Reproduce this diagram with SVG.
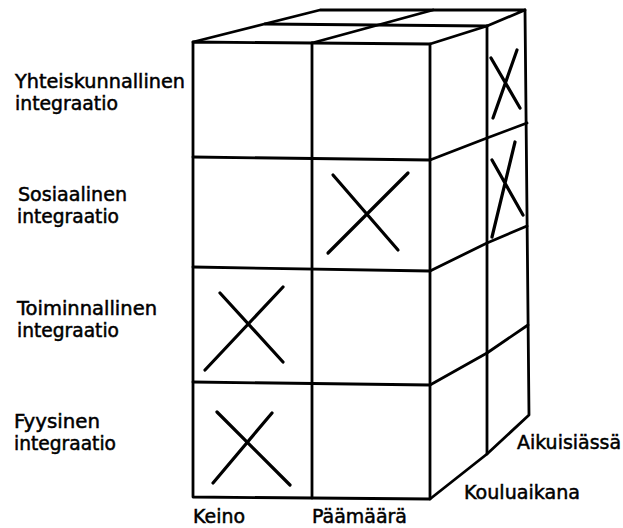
<svg xmlns="http://www.w3.org/2000/svg" width="623" height="528" viewBox="0 0 623 528">
<style>
.ln{fill:none;stroke:#000;stroke-width:2.8;stroke-linejoin:round;stroke-linecap:round}
.x{fill:none;stroke:#000;stroke-width:3.2;stroke-linecap:round}
.t{font-family:"DejaVu Sans","Liberation Sans",sans-serif;font-size:19px;fill:#000;stroke:#000;stroke-width:0.5}
</style>
<rect width="623" height="528" fill="#fff"/>
<g id="cube">
  <g id="front-face">
    <path class="ln" d="M193,42 L430,44 L430,499 L193,497 Z"/>
    <path class="ln" d="M312,43 L312,498"/>
    <path class="ln" d="M193,157 L430,160"/>
    <path class="ln" d="M193,267 L430,271"/>
    <path class="ln" d="M193,382 L430,385"/>
  </g>
  <g id="top-face">
    <path class="ln" d="M193,42 L320,10 L525,10 L487,26 L430,44"/>
    <path class="ln" d="M312,43 L433,10"/>
    <path class="ln" d="M265,24 L487,26"/>
  </g>
  <g id="right-face">
    <path class="ln" d="M525,10 L529,415 L487,454 L430,499"/>
    <path class="ln" d="M487,26 L487,454"/>
    <path class="ln" d="M430,160 L487,138 L527,123"/>
    <path class="ln" d="M430,271 L487,243 L527,226"/>
    <path class="ln" d="M430,385 L487,353 L528,325"/>
  </g>
</g>
<g id="marks">
  <g id="x-yhteiskunnallinen-aikuisiassa"><path class="x" d="M491,58 L520,108 M517,50 L493,118"/></g>
  <g id="x-sosiaalinen-aikuisiassa"><path class="x" d="M492,160 L523,215 M515,142 L492,237"/></g>
  <g id="x-sosiaalinen-paamaara"><path class="x" d="M333,175 L398,250 M408,173 L328,253"/></g>
  <g id="x-toiminnallinen-keino"><path class="x" d="M220,293 L283,362 M283,287 L205,370"/></g>
  <g id="x-fyysinen-keino"><path class="x" d="M217,412 L290,485 M272,413 L213,483"/></g>
</g>
<g id="row-labels">
  <g id="label-yhteiskunnallinen">
    <text class="t" x="15" y="88" textLength="170" lengthAdjust="spacingAndGlyphs">Yhteiskunnallinen</text>
    <text class="t" x="15" y="110" textLength="103" lengthAdjust="spacingAndGlyphs">integraatio</text>
  </g>
  <g id="label-sosiaalinen">
    <text class="t" x="18" y="201" textLength="109" lengthAdjust="spacingAndGlyphs">Sosiaalinen</text>
    <text class="t" x="17" y="223" textLength="102" lengthAdjust="spacingAndGlyphs">integraatio</text>
  </g>
  <g id="label-toiminnallinen">
    <text class="t" x="17" y="315" textLength="140" lengthAdjust="spacingAndGlyphs">Toiminnallinen</text>
    <text class="t" x="17" y="337" textLength="102" lengthAdjust="spacingAndGlyphs">integraatio</text>
  </g>
  <g id="label-fyysinen">
    <text class="t" x="14" y="428" textLength="86" lengthAdjust="spacingAndGlyphs">Fyysinen</text>
    <text class="t" x="14" y="450" textLength="102" lengthAdjust="spacingAndGlyphs">integraatio</text>
  </g>
</g>
<g id="axis-labels">
  <text id="label-keino" class="t" x="193" y="523" textLength="52" lengthAdjust="spacingAndGlyphs">Keino</text>
  <text id="label-paamaara" class="t" x="312" y="523" textLength="95" lengthAdjust="spacingAndGlyphs">Päämäärä</text>
  <text id="label-kouluaikana" class="t" x="464" y="499" textLength="116" lengthAdjust="spacingAndGlyphs">Kouluaikana</text>
  <text id="label-aikuisiassa" class="t" x="517" y="449" textLength="104" lengthAdjust="spacingAndGlyphs">Aikuisiässä</text>
</g>
</svg>
